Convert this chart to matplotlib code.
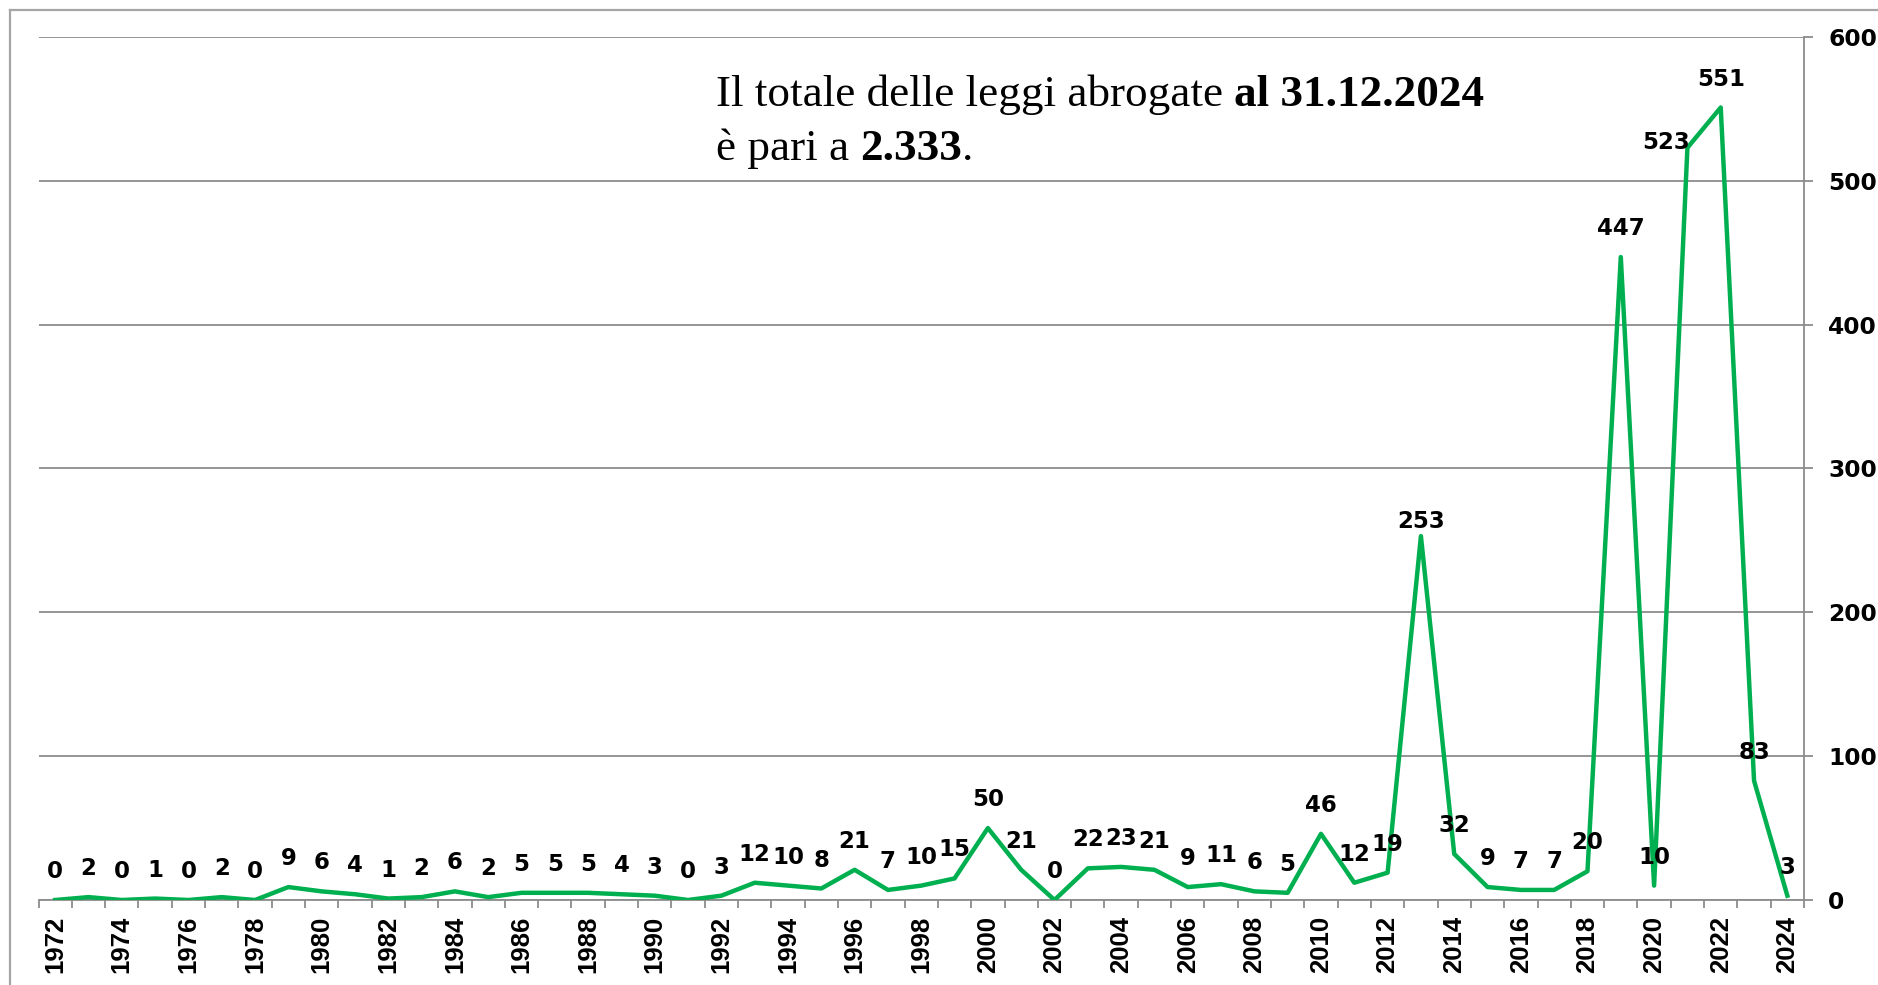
import matplotlib
matplotlib.use("Agg")
import matplotlib.pyplot as plt
import numpy as np
from matplotlib.lines import Line2D
from matplotlib.ticker import FixedLocator, NullFormatter

# leggi abrogate per anno
years = list(range(1972, 2025))
values = [0, 2, 0, 1, 0, 2, 0, 9, 6, 4, 1, 2, 6, 2, 5, 5, 5, 4, 3, 0, 3,
          12, 10, 8, 21, 7, 10, 15, 50, 21, 0, 22, 23, 21, 9, 11, 6, 5, 46,
          12, 19, 253, 32, 9, 7, 7, 20, 447, 10, 523, 551, 83, 3]
y_ticks = [0, 100, 200, 300, 400, 500, 600]

W, H = 1878, 985
GREEN = '#00B050'
GRAY = '#8C8C8C'

fig = plt.figure(figsize=(W / 100, H / 100), dpi=100)
fig.patch.set_facecolor('white')

# area del grafico (in pixel)
left, right, top, bottom = 38.5, 1804, 37, 900
ax = fig.add_axes([left / W, 1 - bottom / H, (right - left) / W, (bottom - top) / H])

x = np.arange(len(years))
ax.plot(x, values, color=GREEN, lw=3.2, zorder=3)

ax.set_xlim(-0.5, len(years) - 0.5)
ax.set_ylim(0, 600)

for s in ['top', 'left']:
    ax.spines[s].set_visible(False)
for s in ['right', 'bottom']:
    ax.spines[s].set_color(GRAY)
    ax.spines[s].set_linewidth(1.3)

ax.yaxis.grid(True, color=GRAY, lw=1.3)
ax.set_axisbelow(True)

# asse y a destra
ax.yaxis.tick_right()
ax.set_yticks(y_ticks)
ax.tick_params(axis='y', direction='out', length=6.5, width=1.3, color=GRAY,
               pad=11, labelsize=16.8)
for lab in ax.get_yticklabels():
    lab.set_fontfamily('DejaVu Sans')
    lab.set_fontweight('bold')

# asse x: tacche tra le categorie, etichette ogni due anni
ax.xaxis.set_major_locator(FixedLocator(np.arange(-0.5, len(years), 1.0)))
ax.xaxis.set_major_formatter(NullFormatter())
ax.tick_params(axis='x', which='major', direction='out', length=5.5, width=1.3,
               color=GRAY)
ax.set_xticks(x[::2], minor=True)
ax.set_xticklabels([str(y) for y in years[::2]], minor=True, rotation=90,
                   fontfamily='Liberation Sans', fontweight='bold', fontsize=18.5)
ax.tick_params(axis='x', which='minor', length=0, pad=11.5)

# etichette dei valori
special = {2013: ((0, 5.5), 'center'), 2021: ((2, -1), 'right')}
for xi, yr, v in zip(x, years, values):
    off, ha = special.get(yr, ((0, 15.8), 'center'))
    ax.annotate(str(v), (xi, v), xytext=off, textcoords='offset points',
                ha=ha, va='baseline', fontsize=16.5, fontweight='bold',
                fontfamily='DejaVu Sans', color='black', zorder=4)

# cornice esterna
fig.add_artist(Line2D([9.5 / W, 9.5 / W], [1 - 10 / H, 0], color='#A6A6A6',
                      lw=1.6, transform=fig.transFigure))
fig.add_artist(Line2D([9.5 / W, 1], [1 - 10 / H, 1 - 10 / H], color='#A6A6A6',
                      lw=1.6, transform=fig.transFigure))

# testo con parti in grassetto
fig.canvas.draw()
renderer = fig.canvas.get_renderer()


def riga(pezzi, x0, y0):
    xp = x0
    for testo, peso in pezzi:
        t = fig.text(xp / W, 1 - y0 / H, testo, fontfamily='Liberation Serif',
                     fontsize=32.5, fontweight=peso, va='baseline', ha='left')
        bb = t.get_window_extent(renderer)
        xp += bb.width


riga([('Il totale delle leggi abrogate ', 'normal'),
      ('al 31.12.2024', 'bold')], 716, 106)
riga([('è pari a ', 'normal'), ('2.333', 'bold'), ('.', 'normal')], 716, 160)

fig.savefig('out.png', dpi=100)
